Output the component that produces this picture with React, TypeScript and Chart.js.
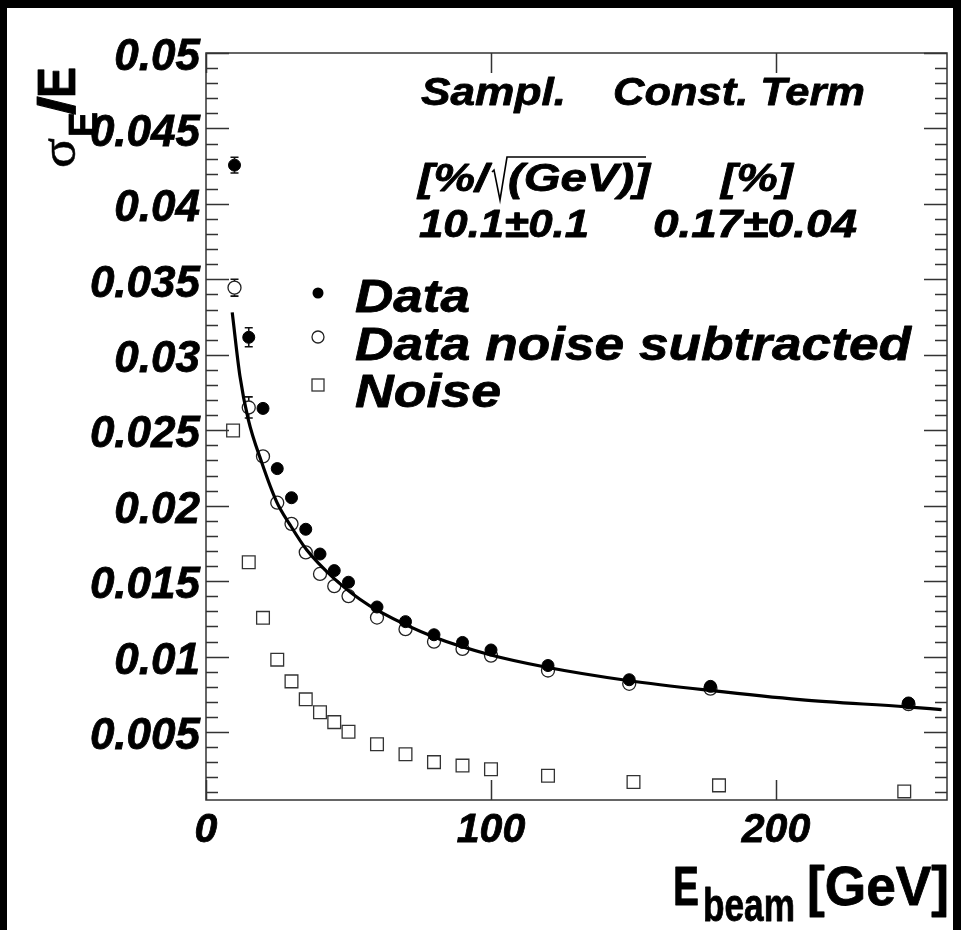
import React, { useEffect, useRef } from "react";
import { Chart, registerables } from "chart.js";

Chart.register(...registerables);

// ---- data ----
const energies = [10, 15, 20, 25, 30, 35, 40, 45, 50, 60, 70, 80, 90, 100, 120, 148.5, 177, 246.5];
const dataValues = [0.04257, 0.03116, 0.02645, 0.02246, 0.02053, 0.01844, 0.0168, 0.0157, 0.01493, 0.01329, 0.01232, 0.01145, 0.01094, 0.01044, 0.00941, 0.00847, 0.00803, 0.00693];
const dataErrors = [0.00052, 0.00063, 0.0003, 0.0002, 0.0002, 0.0002, 0.0002, 0.0002, 0.0002, 0.0002, 0.0002, 0.0002, 0.0002, 0.0002, 0.0002, 0.0002, 0.0002, 0.0002];
const subtractedValues = [0.03445, 0.02651, 0.02327, 0.0202, 0.0188, 0.01691, 0.01548, 0.01467, 0.01401, 0.01259, 0.01182, 0.01099, 0.01051, 0.01007, 0.00908, 0.0082, 0.00788, 0.00685];
const subtractedErrors = [0.00056, 0.0007, 0.0004, 0.0003, 0.0002, 0.0002, 0.0002, 0.0002, 0.0002, 0.0002, 0.0002, 0.0002, 0.0002, 0.0002, 0.0002, 0.0002, 0.0002, 0.0002];
const noiseEnergies = [9.5, 15, 20, 25, 30, 35, 40, 45, 50, 60, 70, 80, 90, 100, 120, 150, 180, 245];
const noiseValues = [0.02498, 0.01625, 0.01257, 0.0098, 0.00836, 0.00717, 0.00632, 0.00566, 0.00502, 0.00419, 0.00353, 0.00301, 0.00278, 0.00254, 0.00211, 0.00169, 0.00147, 0.00107];
const fitEnergies = [9.2, 11.9, 14.8, 19.5, 24.8, 29.5, 35.3, 44.7, 54, 60.5, 80, 99.6, 119.5, 148, 176.8, 208.4, 245.9, 258.1];
const fitValues = [0.03281, 0.0286, 0.02574, 0.0229, 0.02026, 0.01873, 0.01708, 0.01522, 0.0138, 0.01303, 0.0113, 0.01013, 0.0093, 0.00842, 0.00776, 0.00715, 0.00667, 0.00649];

const xTickValues = [0, 100, 200];
const xTickLabels = ["0", "100", "200"];
const yTickValues = [0.005, 0.01, 0.015, 0.02, 0.025, 0.03, 0.035, 0.04, 0.045, 0.05];
const yTickLabels = ["0.005", "0.01", "0.015", "0.02", "0.025", "0.03", "0.035", "0.04", "0.045", "0.05"];
const xMin = 0;
const xMax = 260;
const yMin = 0.0005;
const yMax = 0.05;
const yMinorStep = 0.001;

const legendLabels = ["Data", "Data noise subtracted", "Noise"];
const fitHeader = ["Sampl.", "Const. Term"];
const fitUnits = ["[%/", "(GeV)]", "[%]"];
const fitResults = ["10.1\u00b10.1", "0.17\u00b10.04"];

const SANS = '"Liberation Sans", Arial, Helvetica, sans-serif';
const SERIF = '"Liberation Serif", "DejaVu Serif", serif';

function fitText(ctx: CanvasRenderingContext2D, text: string, x: number, y: number, font: string, width: number, stroke = 0.8) {
  ctx.save();
  ctx.font = font;
  const w = ctx.measureText(text).width;
  ctx.translate(x, y);
  ctx.scale(width / w, 1);
  ctx.textAlign = "left";
  ctx.textBaseline = "alphabetic";
  ctx.fillText(text, 0, 0);
  if (stroke > 0) {
    ctx.lineWidth = stroke;
    ctx.strokeStyle = ctx.fillStyle as string;
    ctx.lineJoin = "round";
    ctx.strokeText(text, 0, 0);
  }
  ctx.restore();
}

const decorPlugin = {
  id: "decor",
  beforeDatasetsDraw(chart: any) {
    const ctx: CanvasRenderingContext2D = chart.ctx;
    const ys = chart.scales.y;
    const sets: [number, number[], number][] = [
      [0, dataErrors, 6],
      [2, subtractedErrors, 6.5],
    ];
    ctx.save();
    ctx.strokeStyle = "#111";
    ctx.lineWidth = 1.6;
    for (const [di, errs, r] of sets) {
      const meta = chart.getDatasetMeta(di);
      const vals = chart.data.datasets[di].data;
      meta.data.forEach((pt: any, i: number) => {
        const v = vals[i].y;
        const top = ys.getPixelForValue(v + errs[i]);
        const bot = ys.getPixelForValue(v - errs[i]);
        if (pt.y - top > r + 1) {
          ctx.beginPath();
          ctx.moveTo(pt.x, pt.y - r);
          ctx.lineTo(pt.x, top);
          ctx.moveTo(pt.x - 4, top);
          ctx.lineTo(pt.x + 4, top);
          ctx.moveTo(pt.x, pt.y + r);
          ctx.lineTo(pt.x, bot);
          ctx.moveTo(pt.x - 4, bot);
          ctx.lineTo(pt.x + 4, bot);
          ctx.stroke();
        }
      });
    }
    ctx.restore();
  },
  afterDraw(chart: any) {
    const ctx: CanvasRenderingContext2D = chart.ctx;
    const a = chart.chartArea;
    const xs = chart.scales.x;
    const ys = chart.scales.y;
    ctx.save();
    // frame
    ctx.strokeStyle = "#333";
    ctx.lineWidth = 1.5;
    ctx.strokeRect(a.left, a.top, a.right - a.left, a.bottom - a.top);
    // y ticks (inside, both sides)
    ctx.beginPath();
    for (let v = yMinorStep; v <= yMax + 1e-9; v += yMinorStep) {
      if (v < yMin) continue;
      const p = Math.round(ys.getPixelForValue(v)) + 0.5;
      const major = yTickValues.some((t) => Math.abs(t - v) < 1e-7);
      const len = major ? 23 : 12;
      ctx.moveTo(a.left, p);
      ctx.lineTo(a.left + len, p);
      ctx.moveTo(a.right, p);
      ctx.lineTo(a.right - len, p);
    }
    // x ticks (inside, bottom and top)
    for (const v of xTickValues) {
      const p = Math.round(xs.getPixelForValue(v)) + 0.5;
      ctx.moveTo(p, a.bottom);
      ctx.lineTo(p, a.bottom - 20);
      ctx.moveTo(p, a.top);
      ctx.lineTo(p, a.top + 20);
    }
    ctx.stroke();

    ctx.fillStyle = "#000";
    // ---- y title: sigma_E / E (rotated) ----
    ctx.save();
    ctx.translate(75, 168);
    ctx.rotate(-Math.PI / 2);
    fitText(ctx, "\u03c3", 0, 0, `50px ${SERIF}`, 30, 0.5);
    fitText(ctx, "E", 31, 22, `bold 40px ${SANS}`, 25);
    fitText(ctx, "/", 53, 0, `bold 52px ${SANS}`, 19);
    fitText(ctx, "E", 70, 0, `bold 54px ${SANS}`, 31);
    ctx.restore();

    // ---- x title: E_beam [GeV] ----
    fitText(ctx, "E", 673, 905, `bold 56px ${SANS}`, 26);
    fitText(ctx, "beam", 703, 921, `bold 46px ${SANS}`, 92);
    fitText(ctx, "[GeV]", 807, 905, `bold 56px ${SANS}`, 142);

    // ---- fit result box ----
    const f39 = `italic bold 39px ${SANS}`;
    fitText(ctx, fitHeader[0], 421, 105, f39, 145);
    fitText(ctx, fitHeader[1], 613, 105, f39, 252);
    fitText(ctx, fitUnits[0], 418, 191, f39, 70);
    // sqrt sign
    ctx.strokeStyle = "#000";
    ctx.lineWidth = 1.6;
    ctx.beginPath();
    ctx.moveTo(492, 172);
    ctx.lineTo(494, 170);
    ctx.lineTo(500, 200);
    ctx.lineTo(507, 157);
    ctx.lineTo(646, 157);
    ctx.stroke();
    fitText(ctx, fitUnits[1], 508, 191, f39, 142);
    fitText(ctx, fitUnits[2], 721, 191, f39, 72);
    fitText(ctx, fitResults[0], 419, 237, f39, 170);
    fitText(ctx, fitResults[1], 653, 237, f39, 204);

    // ---- legend ----
    const f47 = `italic bold 47px ${SANS}`;
    const mx = 318;
    ctx.fillStyle = "#000";
    ctx.beginPath();
    ctx.arc(mx, 293, 5.5, 0, Math.PI * 2);
    ctx.fill();
    ctx.strokeStyle = "#222";
    ctx.lineWidth = 1.3;
    ctx.beginPath();
    ctx.arc(mx, 337, 6, 0, Math.PI * 2);
    ctx.stroke();
    ctx.strokeStyle = "#333";
    ctx.strokeRect(mx - 6, 385 - 6, 12, 12);
    fitText(ctx, legendLabels[0], 355, 312, f47, 115);
    fitText(ctx, legendLabels[1], 355, 360, f47, 556);
    fitText(ctx, legendLabels[2], 355, 407, f47, 146);
    ctx.restore();
  },
};

export default function App() {
  const ref = useRef<HTMLCanvasElement | null>(null);
  useEffect(() => {
    const canvas = ref.current;
    if (!canvas) return;
    const tickFont = (size: number) => ({ family: SANS, size, weight: "bold" as const, style: "italic" as const });
    const chart = new Chart(canvas, {
      type: "scatter",
      data: {
        datasets: [
          {
            label: legendLabels[0],
            data: energies.map((x, i) => ({ x, y: dataValues[i] })),
            pointStyle: "circle",
            pointRadius: 6,
            backgroundColor: "#000",
            borderColor: "#000",
            borderWidth: 1,
            showLine: false,
          },
          {
            label: "fit",
            data: fitEnergies.map((x, i) => ({ x, y: fitValues[i] })),
            showLine: true,
            pointRadius: 0,
            borderColor: "#000",
            borderWidth: 3.2,
            cubicInterpolationMode: "monotone",
            fill: false,
          },
          {
            label: legendLabels[1],
            data: energies.map((x, i) => ({ x, y: subtractedValues[i] })),
            pointStyle: "circle",
            pointRadius: 6.5,
            backgroundColor: "rgba(0,0,0,0)",
            borderColor: "#222",
            borderWidth: 1.3,
            showLine: false,
          },
          {
            label: legendLabels[2],
            data: noiseEnergies.map((x, i) => ({ x, y: noiseValues[i] })),
            pointStyle: "rect",
            pointRadius: 9,
            backgroundColor: "rgba(0,0,0,0)",
            borderColor: "#333",
            borderWidth: 1.3,
            showLine: false,
          },
        ],
      } as any,
      options: {
        animation: false,
        responsive: false,
        devicePixelRatio: 1,
        events: [],
        layout: { padding: { left: 0, top: 53, right: 14, bottom: 0 } },
        plugins: { legend: { display: false }, tooltip: { enabled: false } },
        scales: {
          x: {
            type: "linear",
            min: xMin,
            max: xMax,
            grid: { display: false, drawTicks: false },
            border: { display: false },
            afterBuildTicks: (s: any) => {
              s.ticks = xTickValues.map((v) => ({ value: v }));
            },
            afterFit: (s: any) => {
              s.height = 130;
            },
            ticks: {
              autoSkip: false,
              maxRotation: 0,
              padding: 6,
              color: "#000",
              textStrokeColor: "#000",
              textStrokeWidth: 0.8,
              font: tickFont(41),
              callback: (v: any) => xTickLabels[xTickValues.indexOf(Number(v))] ?? "",
            },
          },
          y: {
            type: "linear",
            min: yMin,
            max: yMax,
            grid: { display: false, drawTicks: false },
            border: { display: false },
            afterBuildTicks: (s: any) => {
              s.ticks = yTickValues.map((v) => ({ value: v }));
            },
            afterFit: (s: any) => {
              s.width = 206;
            },
            ticks: {
              autoSkip: false,
              padding: 6,
              labelOffset: 5,
              color: "#000",
              textStrokeColor: "#000",
              textStrokeWidth: 0.8,
              font: tickFont(44),
              callback: (v: any) => {
                const i = yTickValues.findIndex((t) => Math.abs(t - Number(v)) < 1e-9);
                return i >= 0 ? yTickLabels[i] : "";
              },
            },
          },
        },
      } as any,
      plugins: [decorPlugin],
    });
    return () => chart.destroy();
  }, []);

  return (
    <div style={{ position: "fixed", left: 0, top: 0, width: 961, height: 930, background: "#000", overflow: "hidden" }}>
      <div style={{ position: "absolute", left: 7, top: 8, width: 946, height: 922, background: "#fff" }} />
      <canvas ref={ref} width={961} height={930} style={{ position: "absolute", left: 0, top: 0, width: 961, height: 930 }} />
    </div>
  );
}
